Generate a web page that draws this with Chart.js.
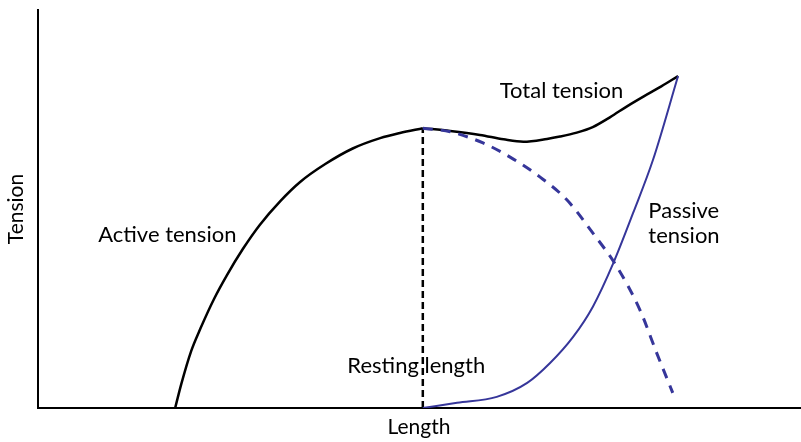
<!DOCTYPE html>
<html>
<head>
<meta charset="utf-8">
<script src="https://cdn.jsdelivr.net/npm/chart.js@4/dist/chart.umd.min.js"></script>
<style>
  html, body { margin: 0; padding: 0; background: #fff; }
  #wrap { width: 801px; height: 442px; }
</style>
</head>
<body>
<div id="wrap"><canvas id="c" width="801" height="442"></canvas></div>
<script>
// Length–tension relationship of skeletal muscle (arbitrary units, 0–100)
const restingLength = 50.5;
const peakActive = 70.3;

const activeRiseX = [18.0, 18.8, 20.1, 21.3, 23.1, 24.8, 26.9, 29.1, 31.8, 34.4, 37.7, 41.3, 44.9, 47.5, 50.5];
const activeRiseY = [0, 6.0, 14.3, 19.9, 27.4, 33.4, 40.0, 46.0, 52.0, 56.8, 61.3, 65.2, 67.8, 69.1, 70.3];

const activeFallX = [50.5, 54.1, 58.4, 61.9, 65.9, 69.4, 72.8, 76.0, 79.0, 81.2, 83.3];
const activeFallY = [70.3, 69.4, 66.6, 63.1, 58.0, 52.3, 44.0, 35.4, 24.6, 13.8, 3.8];

const totalX = [50.5, 54.1, 58.0, 61.1, 63.7, 66.8, 68.5, 70.7, 72.8, 75.1, 77.3, 79.5, 81.8, 84.0];
const totalY = [70.3, 69.6, 68.6, 67.5, 66.9, 67.6, 68.2, 69.2, 70.6, 73.1, 75.8, 78.3, 80.8, 83.4];

const passiveX = [50.5, 55.0, 60.2, 64.2, 67.2, 70.2, 72.8, 75.5, 78.1, 80.7, 84.0];
const passiveY = [0, 1.3, 2.8, 6.3, 11.3, 17.8, 25.4, 36.4, 49.0, 62.3, 83.4];

const restingLineY = [0, peakActive];

const labelTexts = ['Total tension', 'Active tension', 'Passive', 'tension', 'Resting length'];
const labelX = [60.6, 7.9, 80.1, 80.1, 40.6];
const labelY = [77.9, 41.8, 47.8, 41.5, 8.8];

const pts = (xs, ys) => xs.map((x, i) => ({ x: x, y: ys[i] }));

const BLUE = '#36369a';
const FONT = 'Lato, "Open Sans", sans-serif';

const textLabels = {
  id: 'textLabels',
  afterDatasetsDraw(chart) {
    const { ctx, scales: { x, y } } = chart;
    ctx.save();
    ctx.fillStyle = '#000';
    ctx.font = '22px ' + FONT;
    ctx.textAlign = 'left';
    ctx.textBaseline = 'alphabetic';
    labelTexts.forEach((t, i) => {
      ctx.fillText(t, x.getPixelForValue(labelX[i]), y.getPixelForValue(labelY[i]));
    });
    ctx.restore();
  }
};

new Chart(document.getElementById('c'), {
  type: 'line',
  data: {
    datasets: [
      {
        label: 'Passive tension',
        data: pts(passiveX, passiveY),
        borderColor: BLUE, borderWidth: 2, cubicInterpolationMode: 'monotone'
      },
      {
        label: 'Active tension (beyond resting length)',
        data: pts(activeFallX, activeFallY),
        borderColor: BLUE, borderWidth: 3, borderDash: [10, 8], cubicInterpolationMode: 'monotone'
      },
      {
        label: 'Active tension',
        data: pts(activeRiseX, activeRiseY),
        borderColor: '#000', borderWidth: 2.5, cubicInterpolationMode: 'monotone'
      },
      {
        label: 'Total tension',
        data: pts(totalX, totalY),
        borderColor: '#000', borderWidth: 2.5, cubicInterpolationMode: 'monotone'
      },
      {
        label: 'Resting length',
        data: pts([restingLength, restingLength], restingLineY),
        borderColor: '#000', borderWidth: 2.5, borderDash: [7, 4]
      }
    ]
  },
  options: {
    responsive: false,
    animation: false,
    events: [],
    elements: { point: { radius: 0 } },
    layout: { padding: { top: 10, right: 1, left: 0, bottom: 0 } },
    plugins: { legend: { display: false }, tooltip: { enabled: false } },
    scales: {
      x: {
        type: 'linear', min: 0, max: 100,
        grid: { display: false, drawTicks: false },
        border: { display: true, color: '#000', width: 2 },
        ticks: { display: false },
        title: { display: true, text: 'Length', color: '#000', font: { family: FONT, size: 21 }, padding: { top: 4, bottom: 2 } },
        afterFit(scale) { scale.height = 34; }
      },
      y: {
        min: 0, max: 100,
        grid: { display: false, drawTicks: false },
        border: { display: true, color: '#000', width: 2 },
        ticks: { display: false },
        title: { display: true, text: 'Tension', color: '#000', font: { family: FONT, size: 21 }, padding: { top: 4, bottom: 4 } },
        afterFit(scale) { scale.width = 38; }
      }
    }
  },
  plugins: [textLabels]
});
</script>
</body>
</html>
